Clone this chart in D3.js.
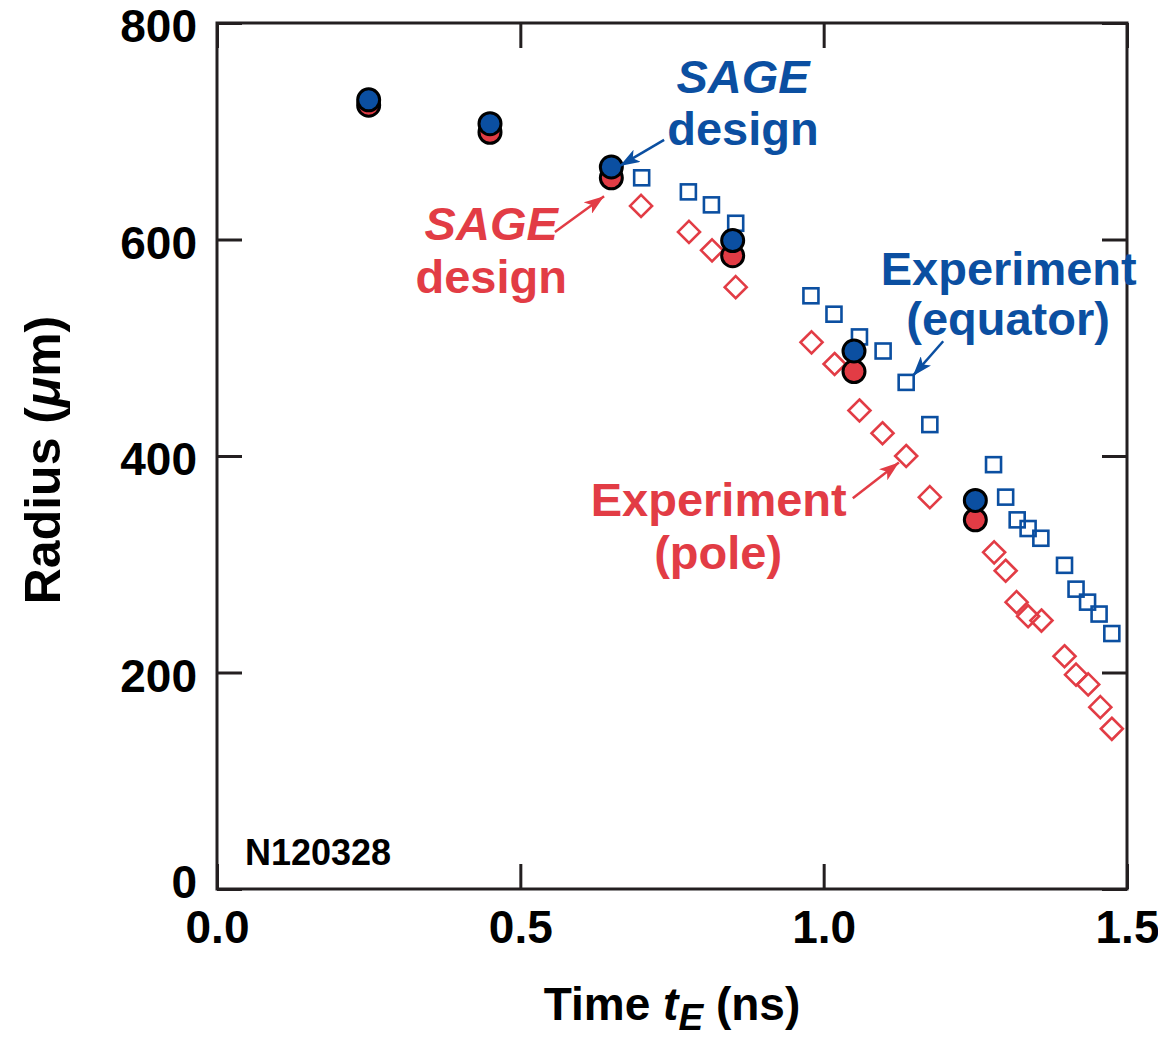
<!DOCTYPE html>
<html>
<head>
<meta charset="utf-8">
<script src="https://cdn.jsdelivr.net/npm/d3@7"></script>
<style>
  body { margin: 0; background: #fff; }
  text { font-family: "Liberation Sans", Arial, Helvetica, sans-serif; font-weight: bold; }
</style>
</head>
<body>
<svg id="chart"></svg>
<script>
// SAGE design (simulations)
const designTimes = [0.25, 0.45, 0.65, 0.85, 1.05, 1.25];
const designEquator = [729, 707, 667, 599, 497, 359];
const designPole = [724, 699, 657, 585, 478, 341];

// experiment, equator (squares)
const eqTimes = [0.700, 0.777, 0.815, 0.855, 0.979, 1.017, 1.059, 1.098, 1.136, 1.175,
  1.280, 1.300, 1.319, 1.337, 1.358, 1.397, 1.416, 1.435, 1.454, 1.475];
const eqRadius = [657, 644, 632, 615, 548, 531, 510, 497, 468, 429,
  392, 362, 341, 333, 324, 299, 277, 265, 254, 236];

// experiment, pole (diamonds)
const poleTimes = [0.699, 0.778, 0.816, 0.855, 0.980, 1.018, 1.059, 1.097, 1.136, 1.175,
  1.281, 1.300, 1.318, 1.337, 1.359, 1.397, 1.416, 1.436, 1.456, 1.475];
const poleRadius = [631, 607, 590, 556, 505, 485, 442, 421, 400, 362,
  311, 294, 265, 252, 248, 215, 198, 189, 168, 148];

const xTicks = [0, 0.5, 1.0, 1.5];
const yTicks = [0, 200, 400, 600, 800];

const blue = "#0b4fa1";
const red = "#e23c45";
const ink = "#231f20";

const width = 1158;
const height = 1038;
const svg = d3.select("#chart").attr("width", width).attr("height", height);

const x = d3.scaleLinear().domain([0, 1.5]).range([217, 1127]);
const y = d3.scaleLinear().domain([0, 800]).range([889, 23]);

// frame
svg.append("rect")
  .attr("x", x(0)).attr("y", y(800))
  .attr("width", x(1.5) - x(0)).attr("height", y(0) - y(800))
  .attr("fill", "none").attr("stroke", ink).attr("stroke-width", 3);

// axes (inward ticks)
const styleAxis = (g) => {
  g.select(".domain").remove();
  g.selectAll("line").attr("stroke", ink).attr("stroke-width", 3);
  g.selectAll("text").attr("fill", "#000").style("font-size", "46px");
};
svg.append("g").attr("transform", `translate(0,${y(0)})`)
  .call(d3.axisBottom(x).tickValues(xTicks).tickSize(-25).tickPadding(21).tickFormat(d3.format(".1f")))
  .call(styleAxis);
svg.append("g").attr("transform", `translate(0,${y(800)})`)
  .call(d3.axisTop(x).tickValues(xTicks).tickSize(-25).tickFormat(""))
  .call(styleAxis);
svg.append("g").attr("transform", `translate(${x(0)},0)`)
  .call(d3.axisLeft(y).tickValues(yTicks).tickSize(-25).tickPadding(20))
  .call(styleAxis)
  .call(g => g.selectAll("text").attr("y", d => d === 0 ? -6 : 4));
svg.append("g").attr("transform", `translate(${x(1.5)},0)`)
  .call(d3.axisRight(y).tickValues(yTicks).tickSize(-25).tickFormat(""))
  .call(styleAxis);

// axis titles
const xt = svg.append("text").attr("x", (x(0) + x(1.5)) / 2).attr("y", 1020)
  .attr("text-anchor", "middle").style("font-size", "46px");
xt.append("tspan").text("Time ");
xt.append("tspan").attr("font-style", "italic").text("t");
xt.append("tspan").attr("font-style", "italic").attr("dy", 10).style("font-size", "37px").text("E");
xt.append("tspan").attr("dy", -10).text(" (ns)");

const yt = svg.append("text")
  .attr("transform", `translate(60,460) rotate(-90)`)
  .attr("text-anchor", "middle").style("font-size", "50px");
yt.append("tspan").text("Radius (");
yt.append("tspan").attr("font-style", "italic").text("\u03bc");
yt.append("tspan").text("m)");

// experiment squares
const sq = 15;
svg.append("g").selectAll("rect")
  .data(eqTimes.map((t, i) => [t, eqRadius[i]]))
  .join("rect")
  .attr("x", d => x(d[0]) - sq / 2).attr("y", d => y(d[1]) - sq / 2)
  .attr("width", sq).attr("height", sq)
  .attr("fill", "none").attr("stroke", blue).attr("stroke-width", 2.6);

// experiment diamonds
const dm = 11;
svg.append("g").selectAll("path")
  .data(poleTimes.map((t, i) => [t, poleRadius[i]]))
  .join("path")
  .attr("d", d => {
    const cx = x(d[0]), cy = y(d[1]);
    return `M${cx},${cy - dm}L${cx + dm},${cy}L${cx},${cy + dm}L${cx - dm},${cy}Z`;
  })
  .attr("fill", "none").attr("stroke", red).attr("stroke-width", 2.6);

// SAGE design circles: pole first, equator on top
svg.append("g").selectAll("circle")
  .data(designTimes.map((t, i) => [t, designPole[i]]))
  .join("circle")
  .attr("cx", d => x(d[0])).attr("cy", d => y(d[1])).attr("r", 11)
  .attr("fill", red).attr("stroke", "#000").attr("stroke-width", 3);
svg.append("g").selectAll("circle")
  .data(designTimes.map((t, i) => [t, designEquator[i]]))
  .join("circle")
  .attr("cx", d => x(d[0])).attr("cy", d => y(d[1])).attr("r", 11)
  .attr("fill", blue).attr("stroke", "#000").attr("stroke-width", 3);

// annotations
const defs = svg.append("defs");
[["blue", blue], ["red", red]].forEach(([id, c]) => {
  defs.append("marker").attr("id", "head-" + id)
    .attr("viewBox", "0 0 20 14").attr("refX", 20).attr("refY", 7)
    .attr("markerWidth", 20).attr("markerHeight", 14)
    .attr("markerUnits", "userSpaceOnUse").attr("orient", "auto")
    .append("path").attr("d", "M0,0L20,7L0,14L5,7Z").attr("fill", c);
});

const labels = [
  { t: 0.867, r: 735, text: "SAGE", color: blue, italic: true },
  { t: 0.867, r: 687, text: "design", color: blue },
  { t: 0.452, r: 600, text: "SAGE", color: red, italic: true },
  { t: 0.452, r: 551, text: "design", color: red },
  { t: 1.305, r: 558, text: "Experiment", color: blue },
  { t: 1.304, r: 512, text: "(equator)", color: blue },
  { t: 0.827, r: 345, text: "Experiment", color: red },
  { t: 0.826, r: 296, text: "(pole)", color: red }
];
svg.append("g").selectAll("text")
  .data(labels)
  .join("text")
  .attr("x", d => x(d.t)).attr("y", d => y(d.r))
  .attr("text-anchor", "middle")
  .attr("font-style", d => d.italic ? "italic" : null)
  .attr("fill", d => d.color)
  .style("font-size", "47px")
  .text(d => d.text);

const arrows = [
  { from: [0.737, 692], to: [0.664, 668], id: "blue", color: blue },
  { from: [0.557, 607], to: [0.638, 640], id: "red", color: red },
  { from: [1.197, 506], to: [1.147, 474], id: "blue", color: blue },
  { from: [1.048, 361], to: [1.124, 394], id: "red", color: red }
];
svg.append("g").selectAll("line")
  .data(arrows)
  .join("line")
  .attr("x1", d => x(d.from[0])).attr("y1", d => y(d.from[1]))
  .attr("x2", d => x(d.to[0])).attr("y2", d => y(d.to[1]))
  .attr("stroke", d => d.color).attr("stroke-width", 2.5)
  .attr("marker-end", d => `url(#head-${d.id})`);

svg.append("text").attr("x", x(0.046)).attr("y", 865)
  .attr("fill", "#000").style("font-size", "36px").text("N120328");
</script>
</body>
</html>
